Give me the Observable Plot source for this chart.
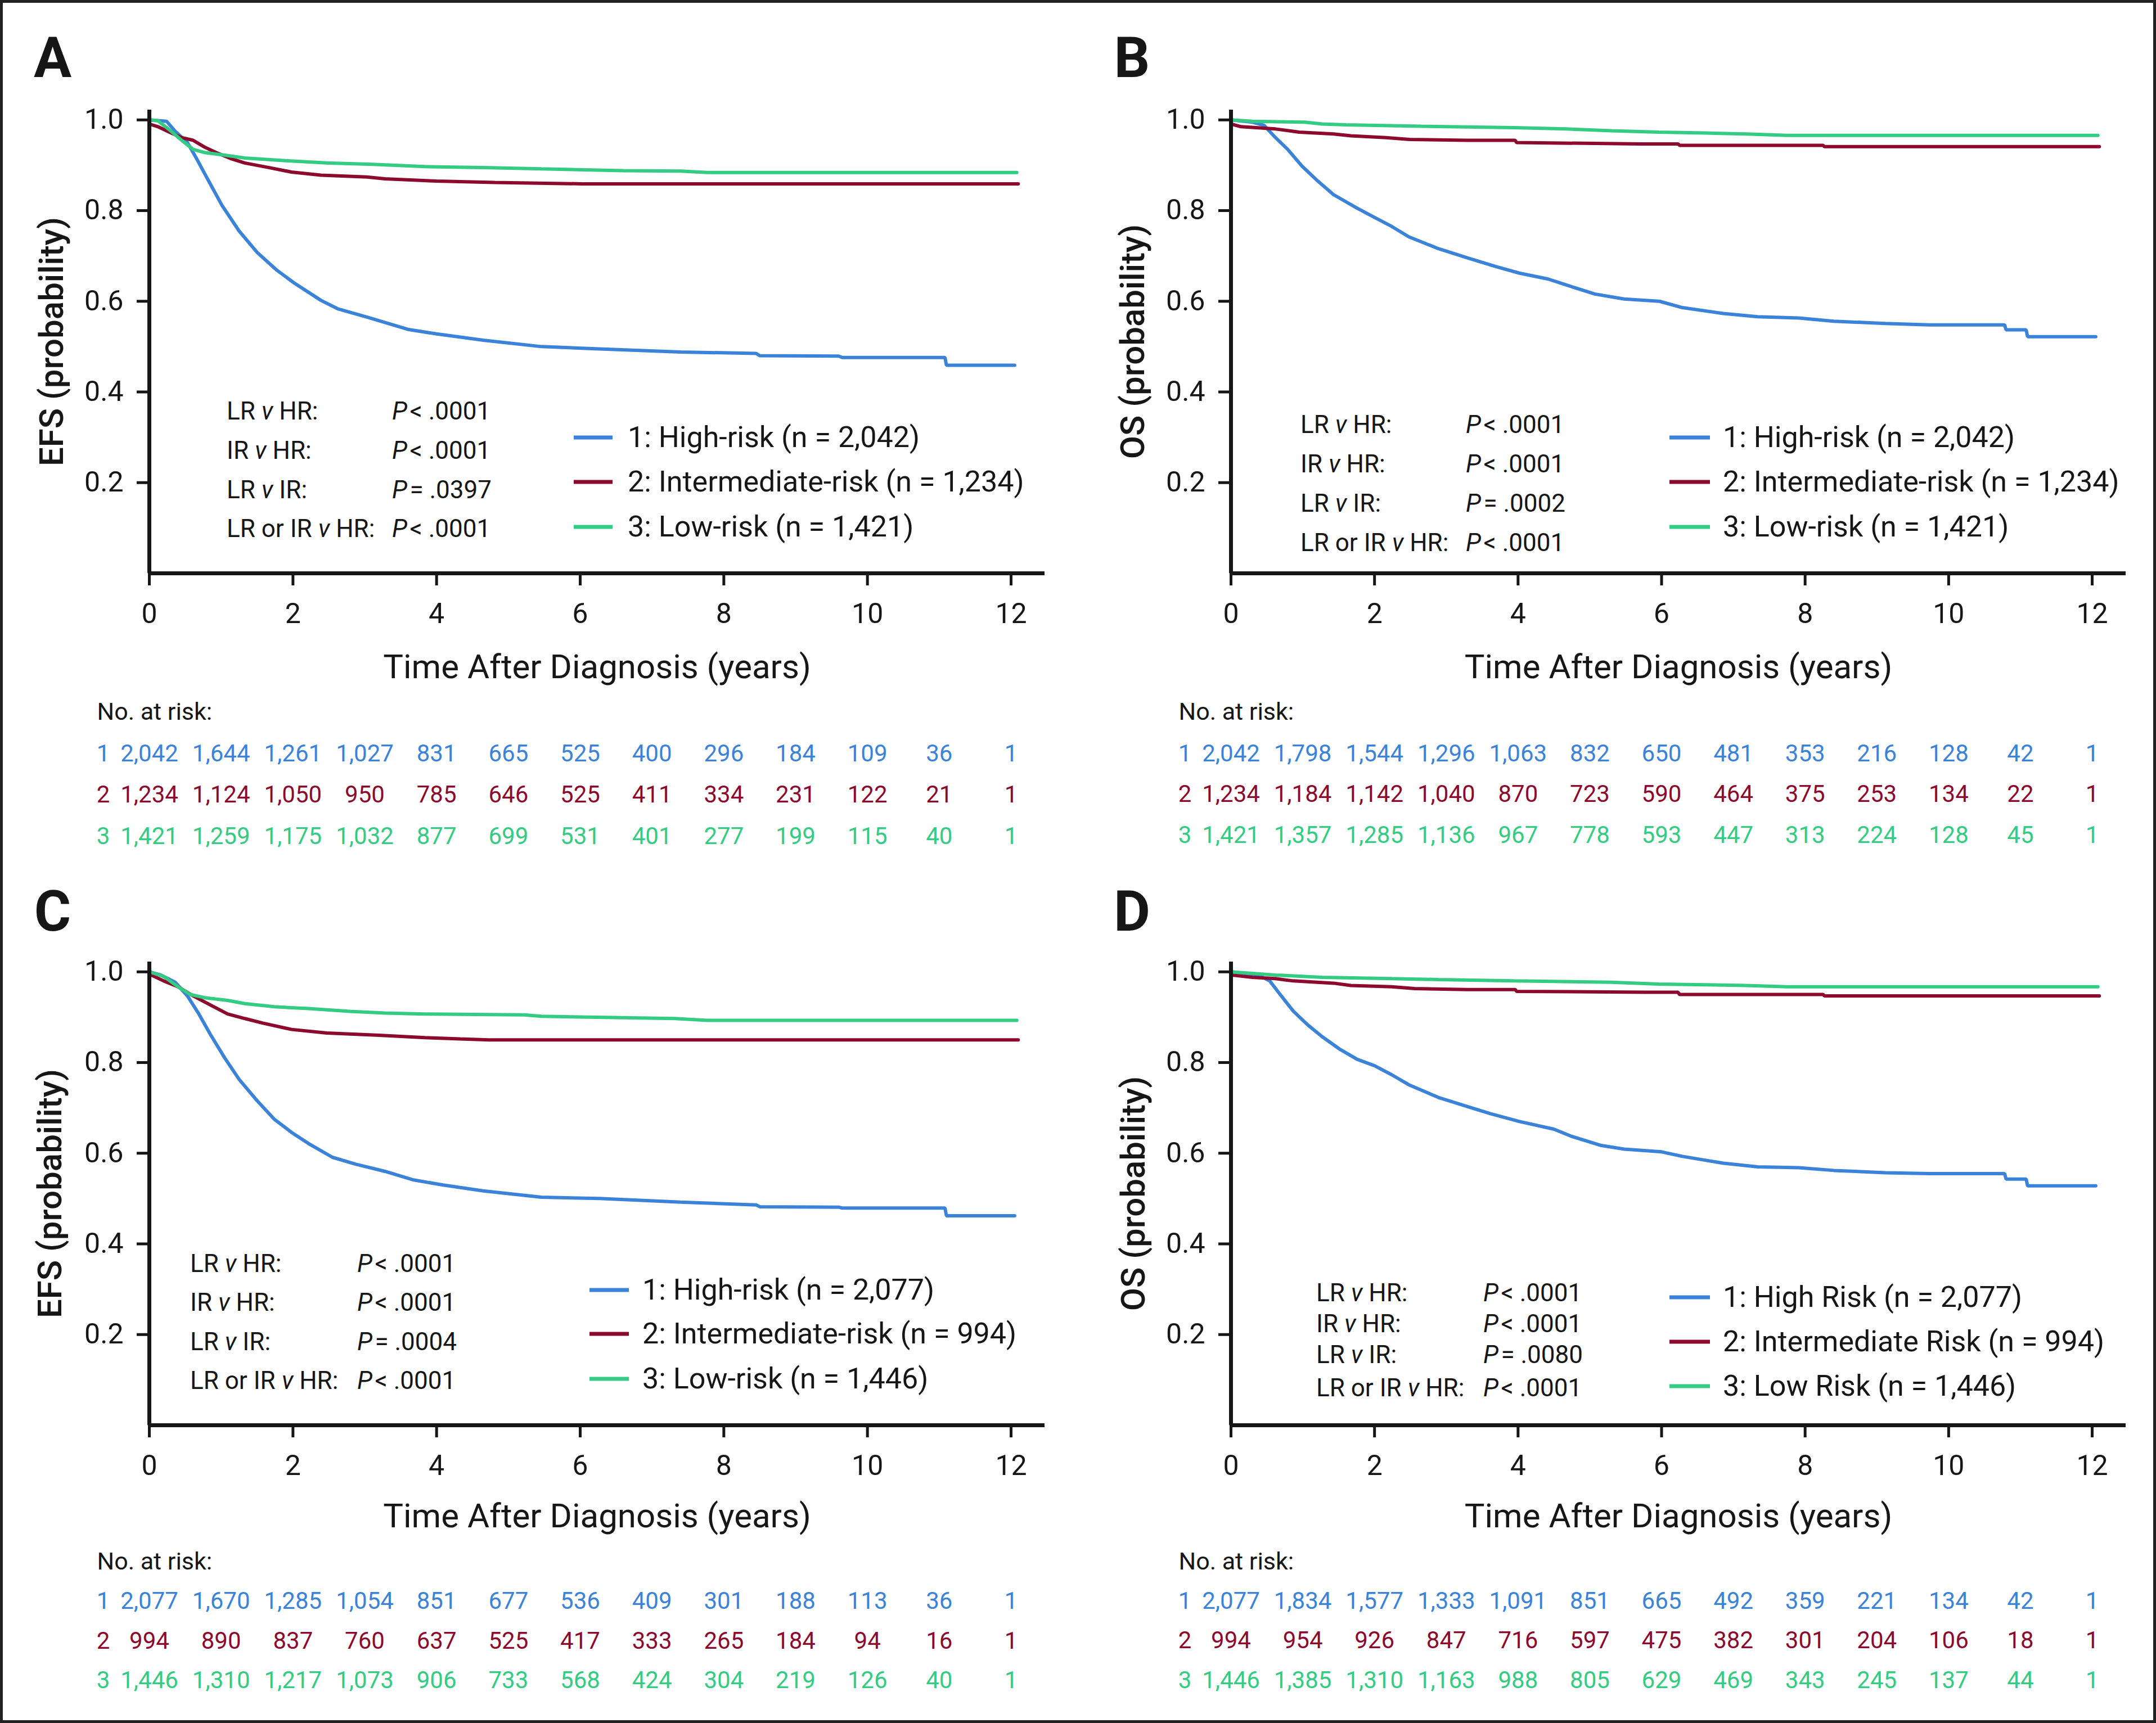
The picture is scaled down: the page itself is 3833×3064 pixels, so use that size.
<!DOCTYPE html>
<html><head><meta charset="utf-8">
<script src="https://cdn.jsdelivr.net/npm/d3@7"></script>
<script src="https://cdn.jsdelivr.net/npm/@observablehq/plot@0.6"></script>
<style>
html,body{margin:0;padding:0;background:#fff;}
#page{position:relative;width:3833px;height:3064px;background:#fff;overflow:hidden;font-family:Roboto,sans-serif;color:#161616;}
#frame{position:absolute;left:0;top:0;width:3833px;height:3064px;box-sizing:border-box;border:5px solid #222;pointer-events:none;z-index:5;}
.panel{position:absolute;}
.panel svg{position:absolute;left:0;top:0;overflow:visible;}
.ov{position:absolute;white-space:nowrap;line-height:1;transform:translateY(-50%);font-family:Roboto,sans-serif;color:#161616;}
.pv{font-size:44px;}
.lg{font-size:52px;}
.sw{position:absolute;height:7px;transform:translateY(-50%);}
</style></head>
<body><div id="page"><div id="frame"></div></div>
<script>
// ---------- shared categories / ticks ----------
const atRiskYears = [0, 1, 2, 3, 4, 5, 6, 7, 8, 9, 10, 11, 12];
const xTicks = [0, 2, 4, 6, 8, 10, 12];
const yTicks = [0.2, 0.4, 0.6, 0.8, 1.0];
const groupColors = ["#3b82d9", "#8c0a2e", "#34cb83"];
const xTitle = "Time After Diagnosis (years)";
const atRiskTitle = "No. at risk:";
const groupNumbers = ["1", "2", "3"];

// ---------- Panel A: EFS ----------
const efsA_high = [[0,1.0],[0.24,0.997],[0.36,0.975],[0.53,0.95],[0.65,0.917],[0.81,0.87],[1.01,0.812],[1.25,0.755],[1.5,0.708],[1.78,0.668],[2.02,0.64],[2.39,0.602],[2.63,0.583],[3.03,0.565],[3.6,0.538],[4.0,0.528],[4.65,0.514],[5.46,0.5],[6.27,0.495],[7.4,0.488],[8.45,0.485],[8.5,0.48],[9.6,0.479],[9.65,0.476],[11.08,0.476],[11.1,0.459],[12.05,0.459]];
const efsA_int  = [[0,0.991],[0.12,0.985],[0.28,0.973],[0.45,0.961],[0.61,0.955],[0.77,0.94],[0.93,0.928],[1.13,0.915],[1.33,0.905],[1.66,0.895],[1.98,0.885],[2.39,0.878],[3.03,0.874],[3.28,0.87],[4.0,0.865],[4.81,0.862],[6.03,0.859],[12.1,0.859]];
const efsA_low  = [[0,1.0],[0.12,0.998],[0.28,0.978],[0.45,0.955],[0.61,0.935],[0.77,0.928],[1.01,0.923],[1.33,0.916],[1.9,0.91],[2.47,0.905],[3.11,0.902],[3.84,0.897],[4.65,0.895],[5.46,0.892],[6.6,0.888],[7.4,0.887],[7.77,0.884],[12.08,0.884]];
const atRiskA_high = [2042,1644,1261,1027,831,665,525,400,296,184,109,36,1];
const atRiskA_int  = [1234,1124,1050,950,785,646,525,411,334,231,122,21,1];
const atRiskA_low  = [1421,1259,1175,1032,877,699,531,401,277,199,115,40,1];
const legendA = ["1: High-risk (n = 2,042)", "2: Intermediate-risk (n = 1,234)", "3: Low-risk (n = 1,421)"];
const pLabelsA = ["LR v HR:", "IR v HR:", "LR v IR:", "LR or IR v HR:"];
const pValuesA = ["P < .0001", "P < .0001", "P = .0397", "P < .0001"];

// ---------- Panel B: OS ----------
const osB_high = [[0,1.0],[0.3,0.995],[0.46,0.988],[0.62,0.961],[0.79,0.935],[0.99,0.898],[1.19,0.868],[1.43,0.835],[1.76,0.805],[2.0,0.785],[2.24,0.765],[2.48,0.742],[2.89,0.716],[3.29,0.696],[3.7,0.676],[4.02,0.662],[4.42,0.649],[4.67,0.636],[5.07,0.616],[5.48,0.605],[5.97,0.6],[6.29,0.586],[6.86,0.573],[7.34,0.566],[7.91,0.563],[8.4,0.556],[9.12,0.551],[9.73,0.548],[10.78,0.548],[10.8,0.537],[11.08,0.537],[11.1,0.522],[12.05,0.522]];
const osB_int  = [[0,0.991],[0.14,0.985],[0.62,0.98],[0.95,0.973],[1.43,0.969],[1.67,0.965],[2.16,0.961],[2.49,0.957],[3.29,0.955],[3.96,0.955],[3.98,0.95],[5.72,0.947],[6.23,0.947],[6.25,0.944],[8.25,0.944],[8.27,0.941],[12.1,0.941]];
const osB_low  = [[0,1.0],[0.3,0.997],[1.03,0.995],[1.27,0.991],[1.6,0.989],[2.65,0.986],[3.94,0.983],[4.67,0.98],[5.3,0.976],[5.96,0.973],[6.61,0.971],[7.18,0.969],[7.75,0.966],[12.08,0.966]];
const atRiskB_high = [2042,1798,1544,1296,1063,832,650,481,353,216,128,42,1];
const atRiskB_int  = [1234,1184,1142,1040,870,723,590,464,375,253,134,22,1];
const atRiskB_low  = [1421,1357,1285,1136,967,778,593,447,313,224,128,45,1];
const legendB = ["1: High-risk (n = 2,042)", "2: Intermediate-risk (n = 1,234)", "3: Low-risk (n = 1,421)"];
const pLabelsB = ["LR v HR:", "IR v HR:", "LR v IR:", "LR or IR v HR:"];
const pValuesB = ["P < .0001", "P < .0001", "P = .0002", "P < .0001"];

// ---------- Panel C: EFS ----------
const efsC_high = [[0,1.0],[0.16,0.993],[0.36,0.977],[0.53,0.947],[0.69,0.907],[0.85,0.862],[1.05,0.81],[1.25,0.763],[1.5,0.716],[1.74,0.675],[1.98,0.646],[2.22,0.621],[2.55,0.591],[2.87,0.576],[3.28,0.56],[3.68,0.541],[4.09,0.53],[4.65,0.517],[5.46,0.503],[6.27,0.5],[7.4,0.492],[8.45,0.486],[8.5,0.482],[9.6,0.481],[9.65,0.479],[11.08,0.479],[11.1,0.462],[12.05,0.462]];
const efsC_int  = [[0,0.995],[0.2,0.98],[0.4,0.967],[0.61,0.947],[0.85,0.927],[1.09,0.907],[1.33,0.897],[1.58,0.887],[1.98,0.873],[2.47,0.865],[3.2,0.86],[3.84,0.855],[4.33,0.852],[4.73,0.85],[12.1,0.85]];
const efsC_low  = [[0,1.0],[0.2,0.99],[0.4,0.967],[0.57,0.95],[0.77,0.943],[1.09,0.937],[1.33,0.93],[1.74,0.923],[2.22,0.919],[2.79,0.913],[3.28,0.909],[3.84,0.907],[5.22,0.905],[5.46,0.902],[6.6,0.899],[7.32,0.897],[7.77,0.893],[12.08,0.893]];
const atRiskC_high = [2077,1670,1285,1054,851,677,536,409,301,188,113,36,1];
const atRiskC_int  = [994,890,837,760,637,525,417,333,265,184,94,16,1];
const atRiskC_low  = [1446,1310,1217,1073,906,733,568,424,304,219,126,40,1];
const legendC = ["1: High-risk (n = 2,077)", "2: Intermediate-risk (n = 994)", "3: Low-risk (n = 1,446)"];
const pLabelsC = ["LR v HR:", "IR v HR:", "LR v IR:", "LR or IR v HR:"];
const pValuesC = ["P < .0001", "P < .0001", "P = .0004", "P < .0001"];

// ---------- Panel D: OS ----------
const osD_high = [[0,1.0],[0.38,0.993],[0.54,0.98],[0.7,0.947],[0.87,0.913],[1.07,0.883],[1.27,0.857],[1.51,0.83],[1.76,0.807],[2.0,0.793],[2.24,0.773],[2.49,0.75],[2.89,0.723],[3.29,0.703],[3.62,0.687],[4.02,0.67],[4.5,0.653],[4.75,0.637],[5.16,0.617],[5.48,0.609],[6.0,0.603],[6.29,0.593],[6.86,0.578],[7.34,0.57],[7.91,0.568],[8.4,0.562],[9.12,0.557],[9.73,0.555],[10.78,0.555],[10.8,0.543],[11.08,0.543],[11.1,0.528],[12.05,0.528]];
const osD_int  = [[0,0.993],[0.3,0.988],[0.62,0.985],[0.87,0.98],[1.43,0.975],[1.67,0.97],[2.24,0.967],[2.56,0.963],[3.29,0.961],[3.96,0.961],[3.98,0.957],[5.76,0.955],[6.23,0.955],[6.25,0.95],[8.25,0.95],[8.27,0.947],[12.1,0.947]];
const osD_low  = [[0,1.0],[0.62,0.993],[1.27,0.988],[2.24,0.985],[2.89,0.983],[3.94,0.98],[5.3,0.977],[5.96,0.973],[7.18,0.97],[7.75,0.967],[12.08,0.967]];
const atRiskD_high = [2077,1834,1577,1333,1091,851,665,492,359,221,134,42,1];
const atRiskD_int  = [994,954,926,847,716,597,475,382,301,204,106,18,1];
const atRiskD_low  = [1446,1385,1310,1163,988,805,629,469,343,245,137,44,1];
const legendD = ["1: High Risk (n = 2,077)", "2: Intermediate Risk (n = 994)", "3: Low Risk (n = 1,446)"];
const pLabelsD = ["LR v HR:", "IR v HR:", "LR v IR:", "LR or IR v HR:"];
const pValuesD = ["P < .0001", "P < .0001", "P = .0080", "P < .0001"];

// ---------- panel assembly (layout kept separate from data) ----------
const panels = [
  {letter:"A", yTitle:"EFS (probability)", curves:[efsA_high, efsA_int, efsA_low], atRisk:[atRiskA_high, atRiskA_int, atRiskA_low], legend:legendA, pLabels:pLabelsA, pValues:pValuesA,
   L:{left:0, top:0, width:1916, height:1515, ml:265, mr:59, letterX:93, letterY:104, yTitleX:92, rowDy:[321,394,468], noDy:247, xTitleDy:167, pvX:403, pvPX:697, pvY:[731,801,871,940], swX:[1020,1089], lgX:1116, lgY:[778,857,937]}},
  {letter:"B", yTitle:"OS (probability)", curves:[osB_high, osB_int, osB_low], atRisk:[atRiskB_high, atRiskB_int, atRiskB_low], legend:legendB, pLabels:pLabelsB, pValues:pValuesB,
   L:{left:1916, top:0, width:1917, height:1515, ml:272, mr:54, letterX:96, letterY:104, yTitleX:98, rowDy:[321,393,466], noDy:247, xTitleDy:167, pvX:396, pvPX:690, pvY:[755,825,895,965], swX:[1052,1124], lgX:1147, lgY:[778,857,937]}},
  {letter:"C", yTitle:"EFS (probability)", curves:[efsC_high, efsC_int, efsC_low], atRisk:[atRiskC_high, atRiskC_int, atRiskC_low], legend:legendC, pLabels:pLabelsC, pValues:pValuesC,
   L:{left:0, top:1515, width:1916, height:1549, ml:265, mr:59, letterX:93, letterY:107, yTitleX:89, rowDy:[313,384,454], noDy:243, xTitleDy:162, pvX:338, pvPX:635, pvY:[732,801,871,940], swX:[1048,1118], lgX:1142, lgY:[779,857,937]}},
  {letter:"D", yTitle:"OS (probability)", curves:[osD_high, osD_int, osD_low], atRisk:[atRiskD_high, atRiskD_int, atRiskD_low], legend:legendD, pLabels:pLabelsD, pValues:pValuesD,
   L:{left:1916, top:1515, width:1917, height:1549, ml:272, mr:54, letterX:96, letterY:107, yTitleX:99, rowDy:[313,383,454], noDy:243, xTitleDy:162, pvX:424, pvPX:721, pvY:[784,839,894,953], swX:[1052,1124], lgX:1147, lgY:[792,871,950]}}
];

const MT = 195, PLOT_BOTTOM = 1019, XMAX = 12.47, YMAX = 1.022;
const ink = "#161616";
const fmtN = d3.format(",");

function italicize(label) { return label.replace(/ v /g, " <i>v</i> "); }
function pHtml(v) { return v.replace(/^P /, "<i>P</i>&#8202;"); }

const page = document.getElementById("page");

for (const p of panels) {
  const L = p.L;
  const marks = [];
  // survival curves
  p.curves.forEach((c, gi) => {
    marks.push(Plot.line(c, {x: d => d[0], y: d => d[1], stroke: groupColors[gi], strokeWidth: 6, strokeLinejoin: "miter"}));
  });
  // axes
  marks.push(Plot.axisX({ticks: xTicks, tickSize: 22, tickPadding: 31, fontSize: 50, strokeWidth: 5, tickFormat: d => String(d), label: null, stroke: ink, fill: ink}));
  marks.push(Plot.axisY({ticks: yTicks, tickSize: 22, tickPadding: 24, fontSize: 50, strokeWidth: 5, tickFormat: d3.format(".1f"), label: null, stroke: ink, fill: ink}));
  marks.push(Plot.ruleX([0], {stroke: ink, strokeWidth: 7}));
  marks.push(Plot.ruleY([0], {stroke: ink, strokeWidth: 7}));
  // titles
  marks.push(Plot.text([xTitle], {text: d => d, frameAnchor: "bottom", lineAnchor: "middle", textAnchor: "middle", dy: L.xTitleDy, fontSize: 60, fill: ink}));
  marks.push(Plot.text([p.yTitle], {text: d => d, frameAnchor: "left", lineAnchor: "middle", textAnchor: "middle", dx: L.yTitleX - L.ml, rotate: -90, fontSize: 60, fontWeight: 500, fill: ink}));
  marks.push(Plot.text([p.letter], {text: d => d, frameAnchor: "top-left", lineAnchor: "middle", textAnchor: "middle", dx: L.letterX - L.ml, dy: L.letterY - MT, fontSize: 100, fontWeight: "bold", fill: ink}));
  // at-risk table
  marks.push(Plot.text([atRiskTitle], {text: d => d, frameAnchor: "bottom-left", lineAnchor: "middle", textAnchor: "start", dx: -93, dy: L.noDy, fontSize: 43, fill: ink}));
  p.atRisk.forEach((counts, gi) => {
    const rows = atRiskYears.map((yr, i) => ({yr, n: counts[i]}));
    marks.push(Plot.text(rows, {x: "yr", text: d => fmtN(d.n), frameAnchor: "bottom", lineAnchor: "middle", textAnchor: "middle", dy: L.rowDy[gi], fontSize: 42, fill: groupColors[gi]}));
    marks.push(Plot.text([groupNumbers[gi]], {text: d => d, frameAnchor: "bottom-left", lineAnchor: "middle", textAnchor: "middle", dx: -82, dy: L.rowDy[gi], fontSize: 42, fill: groupColors[gi]}));
  });

  const svg = Plot.plot({
    width: L.width, height: L.height,
    marginLeft: L.ml, marginRight: L.mr, marginTop: MT, marginBottom: L.height - PLOT_BOTTOM,
    x: {domain: [0, XMAX]},
    y: {domain: [0, YMAX]},
    style: {fontFamily: "Roboto, sans-serif", background: "transparent", color: ink, overflow: "visible"},
    marks
  });

  const div = document.createElement("div");
  div.className = "panel";
  div.style.left = L.left + "px";
  div.style.top = L.top + "px";
  div.style.width = L.width + "px";
  div.style.height = L.height + "px";
  div.appendChild(svg);

  // p-value annotation
  p.pLabels.forEach((lab, i) => {
    const a = document.createElement("div");
    a.className = "ov pv";
    a.style.left = L.pvX + "px"; a.style.top = L.pvY[i] + "px";
    a.innerHTML = italicize(lab);
    div.appendChild(a);
    const b = document.createElement("div");
    b.className = "ov pv";
    b.style.left = L.pvPX + "px"; b.style.top = L.pvY[i] + "px";
    b.innerHTML = pHtml(p.pValues[i]);
    div.appendChild(b);
  });
  // legend
  p.legend.forEach((lab, i) => {
    const s = document.createElement("div");
    s.className = "sw";
    s.style.left = L.swX[0] + "px"; s.style.width = (L.swX[1] - L.swX[0]) + "px";
    s.style.top = L.lgY[i] + "px"; s.style.background = groupColors[i];
    div.appendChild(s);
    const t = document.createElement("div");
    t.className = "ov lg";
    t.style.left = L.lgX + "px"; t.style.top = L.lgY[i] + "px";
    t.textContent = lab;
    div.appendChild(t);
  });
  page.appendChild(div);
}
</script></body></html>
